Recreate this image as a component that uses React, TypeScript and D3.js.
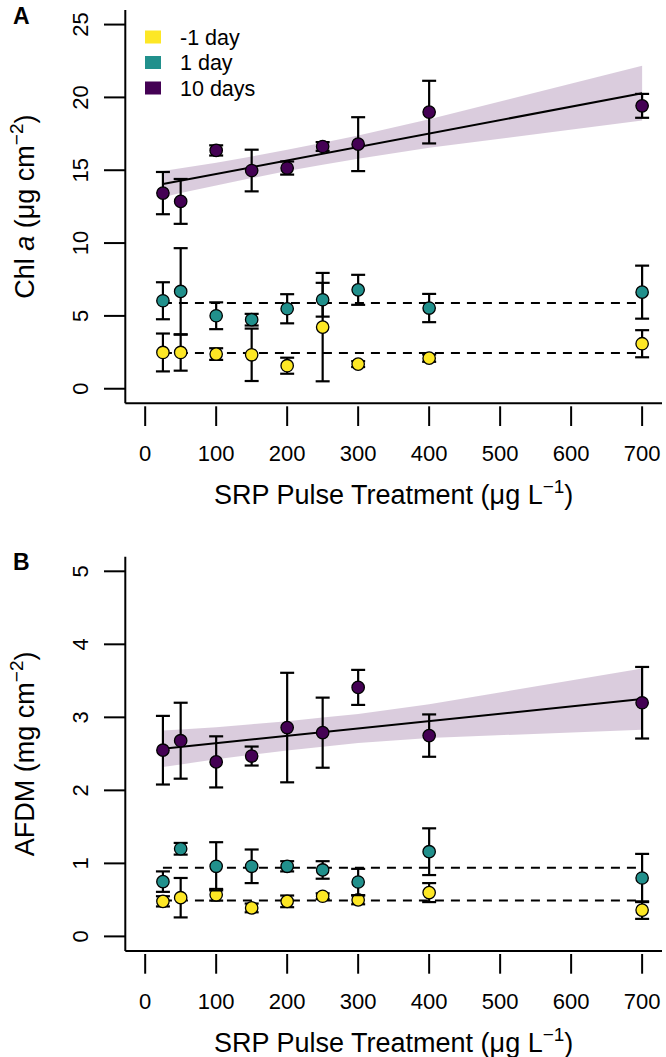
import React from "react";
import * as d3 from "d3";

// ---------- data ----------
const doses = [25, 50, 100, 150, 200, 250, 300, 400, 700];
const xTickValues = [0, 100, 200, 300, 400, 500, 600, 700];
const seriesNames = ["-1 day", "1 day", "10 days"];
const seriesColors = ["#FDE725", "#21908C", "#440154"];

// Panel A: Chl a (µg cm^-2)
const chlPre = [2.49, 2.49, 2.38, 2.33, 1.58, 4.23, 1.69, 2.1, 3.09];
const chlPreErr = [1.3, 1.25, 0.4, 1.8, 0.55, 3.72, 0.2, 0.25, 0.93];
const chl1 = [6.04, 6.68, 5.01, 4.74, 5.49, 6.11, 6.79, 5.54, 6.63];
const chl1Err = [1.27, 2.97, 0.92, 0.4, 1.0, 1.16, 1.03, 0.97, 1.82];
const chl10 = [13.43, 12.86, 16.36, 14.98, 15.15, 16.63, 16.79, 18.99, 19.42];
const chl10Err = [1.45, 1.54, 0.35, 1.43, 0.45, 0.3, 1.85, 2.15, 0.82];
const chlMeans = [2.45, 5.88];
const chlFit = { intercept: 13.82, slope: 0.00924 };
const chlBandUpper = [14.95, 15.13, 15.52, 15.94, 16.4, 16.88, 17.39, 18.5, 22.17];
const chlBandLower = [13.15, 13.43, 13.96, 14.46, 14.94, 15.38, 15.79, 16.54, 18.42];
const chlYTicks = [0, 5, 10, 15, 20, 25];

// Panel B: AFDM (mg cm^-2)
const afdmPre = [0.48, 0.53, 0.57, 0.39, 0.48, 0.55, 0.5, 0.6, 0.36];
const afdmPreErr = [0.07, 0.27, 0.08, 0.06, 0.08, 0.04, 0.06, 0.13, 0.12];
const afdm1 = [0.75, 1.2, 0.96, 0.96, 0.96, 0.91, 0.745, 1.16, 0.8];
const afdm1Err = [0.14, 0.08, 0.33, 0.23, 0.07, 0.12, 0.18, 0.32, 0.33];
const afdm10 = [2.55, 2.68, 2.39, 2.47, 2.86, 2.79, 3.41, 2.75, 3.2];
const afdm10Err = [0.47, 0.52, 0.35, 0.13, 0.75, 0.48, 0.24, 0.29, 0.49];
const afdmMeans = [0.49, 0.94];
const afdmFit = { intercept: 2.545, slope: 0.001007 };
const afdmBandUpper = [2.82, 2.835, 2.866, 2.906, 2.946, 2.997, 3.047, 3.178, 3.67];
const afdmBandLower = [2.32, 2.355, 2.426, 2.486, 2.546, 2.597, 2.647, 2.718, 2.83];
const afdmYTicks = [0, 1, 2, 3, 4, 5];

const FONT = "'Liberation Sans', Arial, Helvetica, sans-serif";
const BAND_FILL = "rgba(68,1,84,0.2)";

const x = d3.scaleLinear().domain([-28, 728]).range([125.3, 662]);

type PanelProps = {
  top: number;
  bottom: number;
  yDomain: [number, number];
  yTicks: number[];
  values: number[][];
  errors: number[][];
  means: number[];
  fit: { intercept: number; slope: number };
  bandUpper: number[];
  bandLower: number[];
  label: string;
  yTitle: string;
  showLegend: boolean;
};

function Panel(p: PanelProps) {
  const y = d3.scaleLinear().domain(p.yDomain).range([p.bottom, p.top]);
  const left = x.range()[0];
  const right = x.range()[1];
  const bandData = doses.map((d, i) => ({ x: d, lo: p.bandLower[i], hi: p.bandUpper[i] }));
  const area = d3
    .area<{ x: number; lo: number; hi: number }>()
    .x((d) => x(d.x))
    .y0((d) => y(d.lo))
    .y1((d) => y(d.hi));
  const xEnds = [doses[0], doses[doses.length - 1]];
  const line = d3
    .line<number>()
    .x((d) => x(d))
    .y((d) => y(p.fit.intercept + p.fit.slope * d));
  const midY = (p.top + p.bottom) / 2;
  const capHalf = 7;

  return (
    <g>
      {/* band + regression */}
      <path d={area(bandData) || ""} fill={BAND_FILL} stroke="none" />
      <path d={line(xEnds) || ""} fill="none" stroke="#000" strokeWidth={2} />
      {/* mean dashed lines */}
      {p.means.map((m, i) => (
        <line
          key={"m" + i}
          x1={x(xEnds[0])}
          x2={x(xEnds[1])}
          y1={y(m)}
          y2={y(m)}
          stroke="#000"
          strokeWidth={2}
          strokeDasharray="9,7"
        />
      ))}
      {/* series */}
      {p.values.map((vals, s) => (
        <g key={"s" + s}>
          {vals.map((v, i) => {
            const cx = x(doses[i]);
            const e = p.errors[s][i];
            return (
              <g key={i}>
                <line x1={cx} x2={cx} y1={y(v - e)} y2={y(v + e)} stroke="#000" strokeWidth={2.2} />
                <line x1={cx - capHalf} x2={cx + capHalf} y1={y(v + e)} y2={y(v + e)} stroke="#000" strokeWidth={2.2} />
                <line x1={cx - capHalf} x2={cx + capHalf} y1={y(v - e)} y2={y(v - e)} stroke="#000" strokeWidth={2.2} />
              </g>
            );
          })}
          {vals.map((v, i) => (
            <circle
              key={"c" + i}
              cx={x(doses[i])}
              cy={y(v)}
              r={6.2}
              fill={seriesColors[s]}
              stroke="#000"
              strokeWidth={1.3}
            />
          ))}
        </g>
      ))}
      {/* axes */}
      <line x1={left} x2={left} y1={p.top} y2={p.bottom} stroke="#000" strokeWidth={2} />
      <line x1={left} x2={right} y1={p.bottom} y2={p.bottom} stroke="#000" strokeWidth={2} />
      {p.yTicks.map((t) => (
        <g key={"yt" + t}>
          <line x1={104} x2={left} y1={y(t)} y2={y(t)} stroke="#000" strokeWidth={2} />
          <text
            transform={`translate(88,${y(t)}) rotate(-90)`}
            textAnchor="middle"
            fontSize={22}
            fontFamily={FONT}
          >
            {t}
          </text>
        </g>
      ))}
      {xTickValues.map((t) => (
        <g key={"xt" + t}>
          <line x1={x(t)} x2={x(t)} y1={p.bottom + 3} y2={p.bottom + 22.7} stroke="#000" strokeWidth={2} />
          <text x={x(t)} y={p.bottom + 57.5} textAnchor="middle" fontSize={22} fontFamily={FONT}>
            {t}
          </text>
        </g>
      ))}
      {/* x title */}
      <text x={(x(0) + x(700)) / 2} y={p.bottom + 100.5} textAnchor="middle" fontSize={27} fontFamily={FONT}>
        <tspan>SRP Pulse Treatment (μg L</tspan>
        <tspan dy={-11} fontSize={19}>−1</tspan>
        <tspan dy={11}>)</tspan>
      </text>
      {/* y title */}
      <text transform={`translate(34,${midY}) rotate(-90)`} textAnchor="middle" fontSize={27} fontFamily={FONT}>
        {p.yTitle === "chl" ? (
          <>
            <tspan>Chl </tspan>
            <tspan fontStyle="italic">a</tspan>
            <tspan> (μg cm</tspan>
            <tspan dy={-11} fontSize={19}>−2</tspan>
            <tspan dy={11}>)</tspan>
          </>
        ) : (
          <>
            <tspan>AFDM (mg cm</tspan>
            <tspan dy={-11} fontSize={19}>−2</tspan>
            <tspan dy={11}>)</tspan>
          </>
        )}
      </text>
      {/* panel label */}
      <text x={13} y={p.top + 13.5} fontSize={23} fontWeight="bold" fontFamily={FONT}>
        {p.label}
      </text>
      {/* legend */}
      {p.showLegend &&
        seriesNames.map((n, i) => (
          <g key={"lg" + i}>
            <rect x={145} y={p.top + 27 + i * 25.5 - 6.5} width={16} height={13} fill={seriesColors[i]} />
            <text x={180} y={p.top + 27 + i * 25.5 + 7.5} fontSize={21.5} fontFamily={FONT}>
              {n}
            </text>
          </g>
        ))}
    </g>
  );
}

export default function App() {
  return (
    <svg
      width={666}
      height={1057}
      style={{ position: "absolute", left: 0, top: 0, background: "#fff" }}
    >
      <rect width={666} height={1057} fill="#fff" />
      <Panel
        top={10}
        bottom={403.3}
        yDomain={[-1, 26]}
        yTicks={chlYTicks}
        values={[chlPre, chl1, chl10]}
        errors={[chlPreErr, chl1Err, chl10Err]}
        means={chlMeans}
        fit={chlFit}
        bandUpper={chlBandUpper}
        bandLower={chlBandLower}
        label="A"
        yTitle="chl"
        showLegend={true}
      />
      <Panel
        top={556.7}
        bottom={951}
        yDomain={[-0.2, 5.2]}
        yTicks={afdmYTicks}
        values={[afdmPre, afdm1, afdm10]}
        errors={[afdmPreErr, afdm1Err, afdm10Err]}
        means={afdmMeans}
        fit={afdmFit}
        bandUpper={afdmBandUpper}
        bandLower={afdmBandLower}
        label="B"
        yTitle="afdm"
        showLegend={false}
      />
    </svg>
  );
}
